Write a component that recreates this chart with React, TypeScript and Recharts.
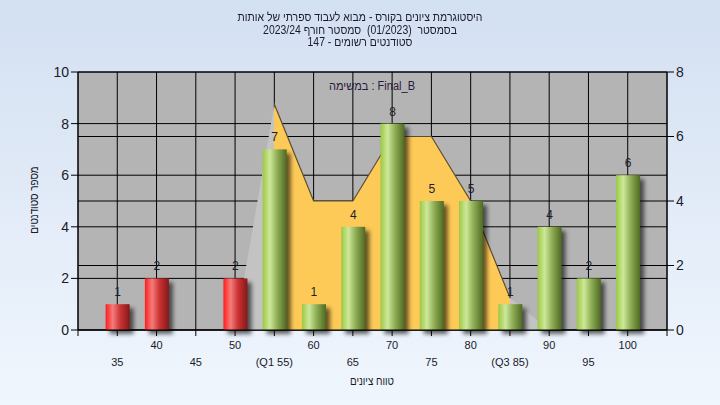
import React from "react";
import {
  ComposedChart,
  Bar,
  Area,
  XAxis,
  YAxis,
  CartesianGrid,
  LabelList,
} from "recharts";

const scores = [35, 40, 45, 50, 55, 60, 65, 70, 75, 80, 85, 90, 95, 100];
const counts = [1, 2, null, 2, 7, 1, 4, 8, 5, 5, 1, 4, 2, 6];
// distribution outline, read against the right axis
const curve = [null, null, null, 0, 7, 4, 4, 6, 6, 4, 1, 0, null, null];
const xTicks = [30, 35, 40, 45, 50, 55, 60, 65, 70, 75, 80, 85, 90, 95, 100, 105];
const xLabels: Record<number, string> = { 55: "(Q1 55)", 85: "(Q3 85)" };
const leftTicks = [0, 2, 4, 6, 8, 10];
const rightTicks = [0, 2, 4, 6, 8];
const passMark = 55;

const titleLines = [
  "היסטוגרמת ציונים בקורס - מבוא לעבוד ספרתי של אותות",
  "בסמסטר  (01/2023)  סמסטר חורף 2023/24",
  "סטודנטים רשומים - 147",
];
const taskLabel = "במשימה : Final_B";
const yTitle = "מספר סטודנטים";
const xTitle = "טווח ציונים";

const data = scores.map((s, i) => ({ score: s, count: counts[i], curve: curve[i] }));

const FONT = '"Liberation Sans", Arial, sans-serif';
const TEXT = "#1a1a2a";

function XTick(props: any) {
  const { x, y, payload } = props;
  const v = payload.value;
  if (v <= 30 || v >= 105) return null;
  const lower = (v / 5) % 2 === 1;
  return (
    <text
      x={x}
      y={y + (lower ? 28 : 11)}
      textAnchor="middle"
      fontSize={11}
      fontFamily={FONT}
      fill={TEXT}
    >
      {xLabels[v] ?? String(v)}
    </text>
  );
}

function CylinderBar(props: any) {
  const { x, y, width, height, payload } = props;
  if (!height || height <= 0) return null;
  const red = payload && payload.score < passMark;
  return (
    <g>
      <rect
        x={x + 4}
        y={y + 4}
        width={width}
        height={height}
        fill="#000"
        opacity={0.6}
        filter="url(#barShadow)"
      />
      <rect x={x} y={y} width={width} height={height} fill={red ? "url(#redGrad)" : "url(#greenGrad)"} />
    </g>
  );
}

const narrow = (extra: string, sx: number) => `${extra} scaleX(${sx})`;

export default function App() {
  return (
    <div
      style={{
        position: "absolute",
        left: 0,
        top: 0,
        width: 720,
        height: 405,
        background: "linear-gradient(#d3e0f2, #f0f6fd)",
        fontFamily: FONT,
        color: TEXT,
        overflow: "hidden",
      }}
    >
      <div
        style={{
          position: "absolute",
          top: 11,
          left: 0,
          width: 720,
          textAlign: "center",
          direction: "rtl",
          fontSize: 12,
          lineHeight: "12.5px",
          whiteSpace: "pre",
          transform: "scaleX(0.87)",
        }}
      >
        {titleLines.map((t, i) => (
          <div key={i}>{t}</div>
        ))}
      </div>

      <ComposedChart
        width={720}
        height={405}
        data={data}
        margin={{ top: 72, right: 0, bottom: 0, left: 0 }}
      >
        <defs>
          <linearGradient id="greenGrad" x1="0" y1="0" x2="1" y2="0">
            <stop offset="0" stopColor="#9cc944" />
            <stop offset="0.3" stopColor="#cde89a" />
            <stop offset="0.6" stopColor="#8fae55" />
            <stop offset="1" stopColor="#4e6a22" />
          </linearGradient>
          <linearGradient id="redGrad" x1="0" y1="0" x2="1" y2="0">
            <stop offset="0" stopColor="#ff1c1c" />
            <stop offset="0.3" stopColor="#f57c7c" />
            <stop offset="0.6" stopColor="#cc3434" />
            <stop offset="1" stopColor="#861818" />
          </linearGradient>
          <linearGradient id="areaFill" x1="0" y1="0" x2="1" y2="0">
            <stop offset="0" stopColor="#c3c3c3" />
            <stop offset="0.125" stopColor="#c3c3c3" />
            <stop offset="0.125" stopColor="#fdca57" />
            <stop offset="0.875" stopColor="#fdca57" />
            <stop offset="0.875" stopColor="#c3c3c3" />
            <stop offset="1" stopColor="#c3c3c3" />
          </linearGradient>
          <linearGradient id="areaStroke" x1="0" y1="0" x2="1" y2="0">
            <stop offset="0" stopColor="#c3c3c3" stopOpacity={0} />
            <stop offset="0.125" stopColor="#c3c3c3" stopOpacity={0} />
            <stop offset="0.125" stopColor="#5b4c33" />
            <stop offset="0.875" stopColor="#5b4c33" />
            <stop offset="0.875" stopColor="#c3c3c3" stopOpacity={0} />
            <stop offset="1" stopColor="#c3c3c3" stopOpacity={0} />
          </linearGradient>
          <filter id="barShadow" x="-50%" y="-20%" width="200%" height="140%">
            <feGaussianBlur stdDeviation="2" />
          </filter>
        </defs>

        <CartesianGrid
          yAxisId="left"
          fill="#b4b4b4"
          fillOpacity={1}
          stroke="#000"
          strokeOpacity={1}
        />
        <CartesianGrid yAxisId="right" vertical={false} stroke="#000" strokeOpacity={1} />

        <XAxis
          dataKey="score"
          type="number"
          domain={[30, 105]}
          ticks={xTicks}
          interval={0}
          height={75}
          tickSize={6}
          axisLine={{ stroke: "#000" }}
          tickLine={{ stroke: "#000" }}
          tick={<XTick />}
        />
        <YAxis
          yAxisId="left"
          domain={[0, 10]}
          ticks={leftTicks}
          width={78}
          tickSize={7}
          axisLine={{ stroke: "#000" }}
          tickLine={{ stroke: "#000" }}
          tick={{ fontSize: 14, fill: TEXT, fontFamily: FONT }}
        />
        <YAxis
          yAxisId="right"
          orientation="right"
          domain={[0, 8]}
          ticks={rightTicks}
          width={53}
          tickSize={7}
          axisLine={{ stroke: "#000" }}
          tickLine={{ stroke: "#000" }}
          tick={{ fontSize: 14, fill: TEXT, fontFamily: FONT }}
        />

        <Area
          yAxisId="right"
          dataKey="curve"
          type="linear"
          fill="url(#areaFill)"
          fillOpacity={1}
          stroke="url(#areaStroke)"
          strokeWidth={1.2}
          dot={false}
          activeDot={false}
          isAnimationActive={false}
        />
        <Bar
          yAxisId="left"
          dataKey="count"
          barSize={24}
          shape={<CylinderBar />}
          isAnimationActive={false}
        >
          <LabelList
            dataKey="count"
            position="top"
            offset={8}
            fontSize={12}
            fill="#1a1f30"
            fontFamily={FONT}
          />
        </Bar>
      </ComposedChart>

      <div
        style={{
          position: "absolute",
          left: 372,
          top: 86,
          transform: narrow("translate(-50%, -50%)", 0.92),
          fontSize: 12,
          color: "#2a1a40",
          whiteSpace: "nowrap",
          direction: "ltr",
        }}
      >
        {taskLabel}
      </div>
      <div
        style={{
          position: "absolute",
          left: 34,
          top: 200,
          transform: narrow("translate(-50%, -50%) rotate(-90deg)", 0.82),
          fontSize: 12,
          whiteSpace: "nowrap",
          direction: "rtl",
        }}
      >
        {yTitle}
      </div>
      <div
        style={{
          position: "absolute",
          left: 372,
          top: 381,
          transform: narrow("translate(-50%, -50%)", 0.82),
          fontSize: 12,
          whiteSpace: "nowrap",
          direction: "rtl",
        }}
      >
        {xTitle}
      </div>
    </div>
  );
}
